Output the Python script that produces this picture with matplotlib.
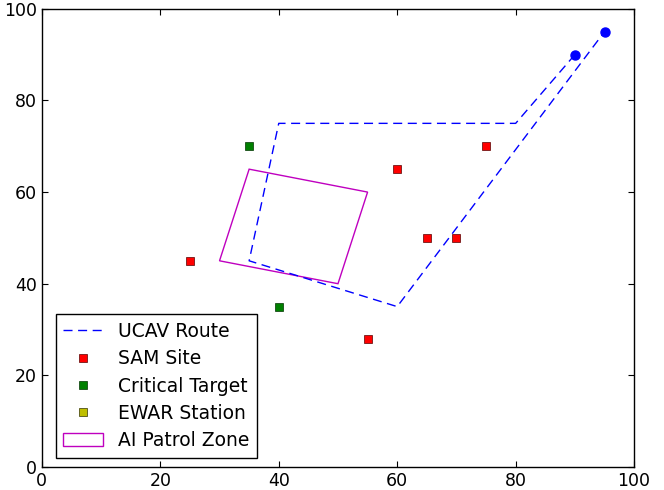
import matplotlib
matplotlib.use("Agg")
import matplotlib.pyplot as plt
from matplotlib.patches import Polygon

route_x = [90, 80, 40, 35, 60, 95]
route_y = [90, 75, 75, 45, 35, 95]
endpoints_x = [90, 95]
endpoints_y = [90, 95]
sam_x = [25, 55, 60, 65, 70, 75]
sam_y = [45, 28, 65, 50, 50, 70]
target_x = [35, 40]
target_y = [70, 35]
ewar_x = []
ewar_y = []
zone_x = [35, 55, 50, 30]
zone_y = [65, 60, 40, 45]

plt.rcParams['font.family'] = ['DejaVu Sans']
plt.rcParams['font.size'] = 12.5
plt.rcParams['xtick.direction'] = 'in'
plt.rcParams['ytick.direction'] = 'in'
plt.rcParams['xtick.top'] = True
plt.rcParams['ytick.right'] = True
plt.rcParams['xtick.major.size'] = 4
plt.rcParams['ytick.major.size'] = 4

fig = plt.figure(figsize=(6.64, 4.9), dpi=100)
ax = fig.add_axes([0.063, 0.047, 0.892, 0.935])

ax.plot(route_x, route_y, linestyle='--', color='#0000ff', lw=1, dashes=(6.5, 4),
        label='UCAV Route')
ax.plot(endpoints_x, endpoints_y, 'o', color='#0000ff', markersize=6.5, mec='#0000ff')
ax.plot(sam_x, sam_y, 's', color='red', markersize=6, mec='#550000', mew=0.5,
        linestyle='none', label='SAM Site')
ax.plot(target_x, target_y, 's', color='green', markersize=6, mec='#003300', mew=0.5,
        linestyle='none', label='Critical Target')
ax.plot(ewar_x, ewar_y, 's', color='#bfbf00', markersize=6, mec='#333300', mew=0.5,
        linestyle='none', label='EWAR Station')
zone = Polygon(list(zip(zone_x, zone_y)), closed=True, fill=False,
               edgecolor='#bf00bf', lw=1, label='AI Patrol Zone')
ax.add_patch(zone)

ax.set_xlim(0, 100)
ax.set_ylim(0, 100)
ax.set_xticks([0, 20, 40, 60, 80, 100])
ax.set_yticks([0, 20, 40, 60, 80, 100])
for s in ax.spines.values():
    s.set_linewidth(1)

leg = ax.legend(loc='lower left', bbox_to_anchor=(14 / 592, 9 / 458),
                numpoints=1, fancybox=False, framealpha=1,
                edgecolor='black', fontsize=13.5, handlelength=2.1,
                handletextpad=0.8, borderpad=0.4, labelspacing=0.45,
                borderaxespad=0)
leg.get_frame().set_linewidth(1)

fig.savefig('out.png', dpi=100, facecolor='white')
